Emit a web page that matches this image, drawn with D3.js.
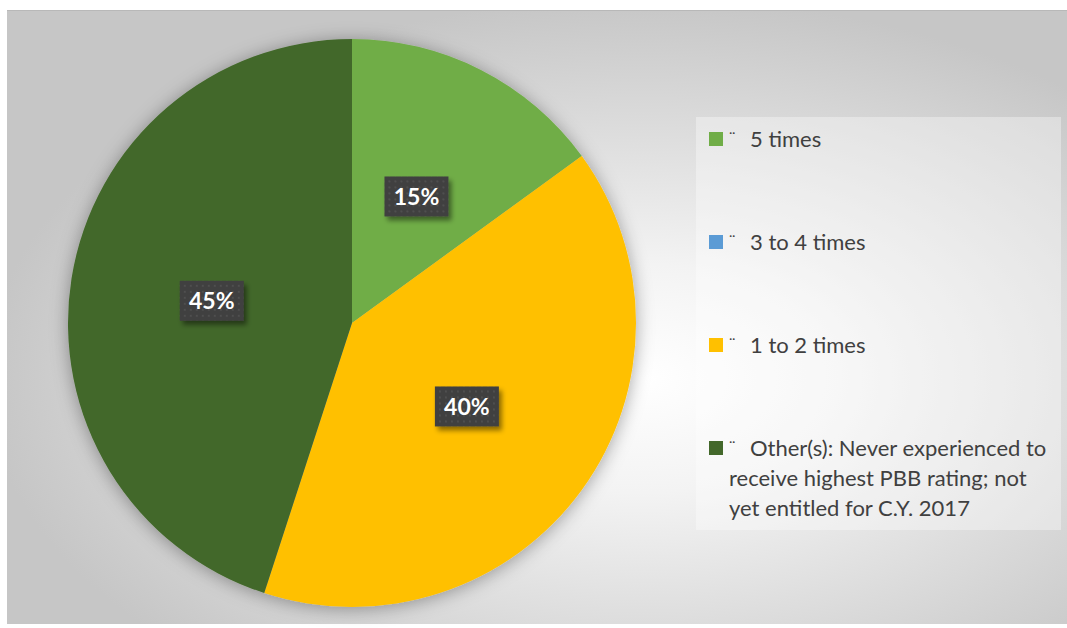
<!DOCTYPE html>
<html>
<head>
<meta charset="utf-8">
<script src="https://cdn.jsdelivr.net/npm/d3@7"></script>
<style>
  body { margin: 0; background: #fff; }
  svg { display: block; }
</style>
</head>
<body>
<div class="chart"></div>
<script>
const width = 1067;
const height = 628;

// data
const categories = ["5 times", "3 to 4 times", "1 to 2 times",
    "Other(s): Never experienced to receive highest PBB rating; not yet entitled for C.Y. 2017"];
const values = [15, 0, 40, 45];
const colors = ["#70AD47", "#5B9BD5", "#FFC000", "#43682B"];
const legendLines = [
    ["5 times"],
    ["3 to 4 times"],
    ["1 to 2 times"],
    ["Other(s): Never experienced to", "receive highest PBB rating; not", "yet entitled for C.Y. 2017"]
];

const data = categories.map((c, i) => ({ name: c, value: values[i], color: colors[i], lines: legendLines[i] }));

const cx = 352, cy = 323, radius = 284;

let svg = d3.select(".chart").append("svg")
    .attr("width", width)
    .attr("height", height);

let defs = svg.append("defs");

// background gradient of the chart area
let bg = defs.append("radialGradient")
    .attr("id", "bgGrad")
    .attr("cx", "0.6").attr("cy", "0.6").attr("r", "0.62");
bg.append("stop").attr("offset", "0").attr("stop-color", "#ffffff");
bg.append("stop").attr("offset", "0.3").attr("stop-color", "#f3f3f3");
bg.append("stop").attr("offset", "1").attr("stop-color", "#c6c6c6");

// soft shadow for the pie
let pieShadow = defs.append("filter").attr("id", "pieShadow")
    .attr("x", "-20%").attr("y", "-20%").attr("width", "140%").attr("height", "140%");
pieShadow.append("feDropShadow")
    .attr("dx", 0).attr("dy", 2).attr("stdDeviation", 9)
    .attr("flood-color", "#000").attr("flood-opacity", 0.35);

// shadow for the label boxes
let boxShadow = defs.append("filter").attr("id", "boxShadow")
    .attr("x", "-30%").attr("y", "-30%").attr("width", "160%").attr("height", "160%");
boxShadow.append("feDropShadow")
    .attr("dx", 3).attr("dy", 4).attr("stdDeviation", 2.5)
    .attr("flood-color", "#000").attr("flood-opacity", 0.45);

// dotted fill for the label boxes
let dots = defs.append("pattern").attr("id", "dots")
    .attr("width", 6).attr("height", 6)
    .attr("patternUnits", "userSpaceOnUse");
dots.append("rect").attr("width", 6).attr("height", 6).attr("fill", "#3f3f3f");
dots.append("rect").attr("x", 2).attr("y", 2).attr("width", 2).attr("height", 2).attr("fill", "#505050");

// chart area
svg.append("rect")
    .attr("x", 7).attr("y", 10)
    .attr("width", width - 7).attr("height", 614)
    .attr("fill", "url(#bgGrad)");
svg.append("line")
    .attr("x1", 7).attr("x2", width).attr("y1", 10.5).attr("y2", 10.5)
    .attr("stroke", "#b8b8b8").attr("stroke-width", 1);

// pie
let pie = d3.pie().sort(null).value(d => d.value);
let arc = d3.arc().innerRadius(0).outerRadius(radius);
let labelArc = d3.arc().innerRadius(radius / 2).outerRadius(radius / 2);
let arcs = pie(data);

let g = svg.append("g").attr("transform", "translate(" + cx + "," + cy + ")");

g.append("g")
    .attr("filter", "url(#pieShadow)")
    .selectAll("path")
    .data(arcs)
    .enter()
    .append("path")
    .attr("d", arc)
    .attr("fill", d => d.data.color);

// data labels
let labels = g.append("g")
    .selectAll("g")
    .data(arcs.filter(d => d.data.value > 0))
    .enter()
    .append("g")
    .attr("transform", d => "translate(" + labelArc.centroid(d) + ")");

labels.append("rect")
    .attr("x", -32).attr("y", -20)
    .attr("width", 64).attr("height", 40)
    .attr("fill", "url(#dots)")
    .attr("filter", "url(#boxShadow)");

labels.append("text")
    .text(d => d.data.value + "%")
    .attr("text-anchor", "middle")
    .attr("dy", "0.36em")
    .attr("fill", "#ffffff")
    .attr("font-family", "Lato, 'Open Sans', sans-serif")
    .attr("font-weight", "bold")
    .attr("font-size", 23);

// legend
svg.append("rect")
    .attr("x", 696).attr("y", 117)
    .attr("width", 365).attr("height", 413)
    .attr("fill", "#ffffff").attr("fill-opacity", 0.35);

let legendY = d3.scaleBand()
    .domain(categories)
    .range([132, 544])
    .paddingInner(0);

let items = svg.append("g")
    .selectAll("g")
    .data(data)
    .enter()
    .append("g")
    .attr("transform", d => "translate(709," + legendY(d.name) + ")");

items.append("rect")
    .attr("width", 14).attr("height", 14)
    .attr("fill", d => d.color);

items.append("text")
    .text("\u00A8")
    .attr("x", 20).attr("y", 11)
    .attr("fill", "#404040")
    .attr("font-family", "Lato, sans-serif")
    .attr("font-size", 16);

let txt = items.append("text")
    .attr("fill", "#404040")
    .attr("font-family", "Lato, 'Open Sans', sans-serif")
    .attr("font-size", 22);

txt.selectAll("tspan")
    .data(d => d.lines)
    .enter()
    .append("tspan")
    .attr("x", (l, i) => i === 0 ? 41 : 20)
    .attr("y", (l, i) => 15 + i * 30)
    .text(l => l);
</script>
</body>
</html>
